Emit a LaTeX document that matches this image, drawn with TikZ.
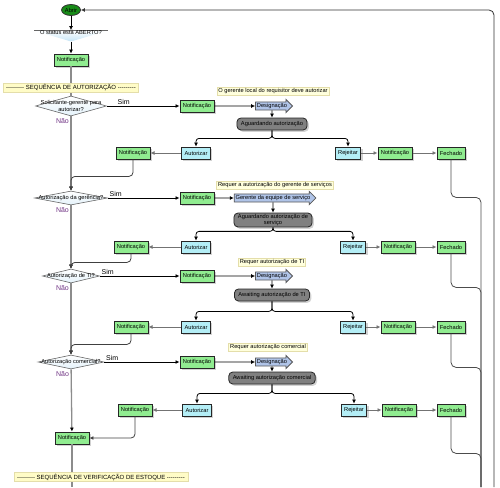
\documentclass[tikz,border=0pt]{standalone}
\usepackage{fontspec}
\setmainfont{Liberation Sans}
\usepackage{tikz}
\usetikzlibrary{shapes.geometric}
\usetikzlibrary{shapes.arrows}
\usetikzlibrary{shadows}
\usetikzlibrary{arrows.meta}
\definecolor{boxgreen}{RGB}{144,236,144}
\definecolor{boxcyan}{RGB}{180,238,246}
\definecolor{pillgray}{RGB}{128,128,128}
\definecolor{assignblue}{RGB}{176,196,232}
\definecolor{startgreen}{RGB}{24,140,24}
\definecolor{notefill}{RGB}{255,255,221}
\definecolor{noteline}{RGB}{228,222,170}
\definecolor{nolabel}{RGB}{112,52,132}
\definecolor{trunkgray}{RGB}{140,140,140}
\definecolor{decblue}{RGB}{196,228,246}
\tikzset{
every picture/.style={line width=0.8pt, >={Latex[length=4pt,width=4pt]}},
%%%%%%%%%%  Node styles
openstate/.style={ellipse, draw=black!80, fill=startgreen, minimum width=19pt,
                  minimum height=11pt, inner sep=0pt},
notif/.style={rectangle, draw=black!85, fill=boxgreen, minimum height=12pt,
              inner xsep=3pt, inner ysep=0pt,
              drop shadow={shadow xshift=1.8pt, shadow yshift=-1.8pt, fill=black!35}},
answer/.style={notif, fill=boxcyan},
waitbox/.style={rectangle, rounded corners=4pt, draw=black!85, fill=pillgray,
                minimum height=12pt, inner xsep=4pt, inner ysep=1pt, align=center,
                drop shadow={shadow xshift=1.8pt, shadow yshift=-1.8pt, fill=black!35}},
assign/.style={single arrow, draw=black!65, fill=assignblue, inner sep=1pt,
               single arrow head extend=2.5pt, single arrow head indent=0pt},
note/.style={rectangle, draw=noteline, fill=notefill, inner sep=1.3pt},
banner/.style={note, fill=yellow!22, inner xsep=3pt, font=\fontsize{6}{7}\selectfont},
decision/.style={diamond, draw=black!60, line width=0.6pt, top color=white,
                 bottom color=decblue!45, inner sep=0pt},
mergetri/.style={rectangle, minimum width=74pt, minimum height=11pt, inner sep=0pt,
                 text height=3pt, text depth=5pt,
                 path picture={
                   \shade[top color=white, bottom color=decblue]
                     (path picture bounding box.north west) --
                     (path picture bounding box.north east) --
                     (path picture bounding box.south) -- cycle;
                   \draw[black!60, line width=0.6pt]
                     (path picture bounding box.north west) --
                     (path picture bounding box.north east);}},
%%%% different line styles:
trunk/.style={draw=trunkgray, line width=1.3pt, -{Latex[length=4pt,width=4pt,black]}},
trunkline/.style={draw=trunkgray, line width=1.3pt},
link/.style={draw=black!55, ->},
flow/.style={draw=black, ->},
joinline/.style={draw=black!75, ->, rounded corners=4pt},
closeline/.style={draw=black!70, rounded corners=5pt},
%%%%%%% Labels
simlabel/.style={font=\fontsize{7}{8}\selectfont, inner sep=1.5pt},
naolabel/.style={simlabel, text=nolabel}
}
\newcommand{\dashfill}{-{}-{}-{}-{}-{}-{}-{}-{}-{}}

\begin{document}
\begin{tikzpicture}[x=1pt, y=-1pt, font=\fontsize{5.7}{6.6}\selectfont]
\useasboundingbox (0,0) rectangle (500,487);
\node[openstate] (abrir) at (71,10) {Abrir};
\node[mergetri] (open) at (71,36) {O status está ABERTO?};
\node[notif] (n0) at (71,60) {Notificação};
\draw[flow] (abrir) -- (open);
\draw[flow] (open) -- (n0);
%%%% row 1
\node[decision, minimum width=71pt, minimum height=20pt,
      label={[align=center]center:Solicitante-gerente para\\autorizar?}] (d1) at (71,106) {};
\node[notif] (n1) at (197,106) {Notificação};
\node[assign] (a1) at (272,106) {Designação};
\node[note] (nt1) at (273,91) {O gerente local do requisitor deve autorizar};
\node[waitbox] (w1) at (272,124) {Aguardando autorização};
\node[answer] (au1) at (196,153) {Autorizar};
\node[answer] (rj1) at (348,153) {Rejeitar};
\node[notif] (nl1) at (133,153) {Notificação};
\node[notif] (nr1) at (395,153) {Notificação};
\node[notif] (f1) at (451,153) {Fechado};
%%%% row 2
\node[decision, minimum width=73pt, minimum height=14pt,
      label=center:{Autorização da gerência?}] (d2) at (71,198) {};
\node[notif] (n2) at (197,198) {Notificação};
\node[assign] (a2) at (273,198) {Gerente da equipe de serviço};
\node[note] (nt2) at (275,185) {Requer a autorização do gerente de serviços};
\node[waitbox] (w2) at (273,220) {Aguardando autorização de\\serviço};
\node[answer] (au2) at (196,247) {Autorizar};
\node[answer] (rj2) at (353,247) {Rejeitar};
\node[notif] (nl2) at (131,247) {Notificação};
\node[notif] (nr2) at (398,247) {Notificação};
\node[notif] (f2) at (451,247) {Fechado};
%%%% row 3
\node[decision, minimum width=57pt, minimum height=14pt,
      label=center:{Autorização de TI?}] (d3) at (71,276) {};
\node[notif] (n3) at (197,276) {Notificação};
\node[assign] (a3) at (272,276) {Designação};
\node[note] (nt3) at (272,262) {Requer autorização de TI};
\node[waitbox] (w3) at (272,295) {Awaiting autorização de TI};
\node[answer] (au3) at (196,327) {Autorizar};
\node[answer] (rj3) at (353,327) {Rejeitar};
\node[notif] (nl3) at (131,327) {Notificação};
\node[notif] (nr3) at (398,327) {Notificação};
\node[notif] (f3) at (451,327) {Fechado};
%%%% row 4
\node[decision, minimum width=66pt, minimum height=14pt,
      label=center:{Autorização comercial?}] (d4) at (71,362) {};
\node[notif] (n4) at (197,362) {Notificação};
\node[assign] (a4) at (272,362) {Designação};
\node[note] (nt4) at (268,347) {Requer autorização comercial};
\node[waitbox] (w4) at (272,378) {Awaiting autorização comercial};
\node[answer] (au4) at (197,410) {Autorizar};
\node[answer] (rj4) at (354,410) {Rejeitar};
\node[notif] (nl4) at (135,410) {Notificação};
\node[notif] (nr4) at (399,410) {Notificação};
\node[notif] (f4) at (451,410) {Fechado};
\node[notif] (nfin) at (72,438) {Notificação};
\coordinate (seqout) at (72,487);
\coordinate (loopin) at (494,487);
\coordinate (mergeout) at (481,487);
%%%% main line
\draw[trunkline] (n0) -- (d1);
\draw[trunk] (d1) -- (d2) node[naolabel, pos=0, below left] {Não};
\draw[trunk] (d2) -- (d3) node[naolabel, pos=0, below left] {Não};
\draw[trunk] (d3) -- (d4) node[naolabel, pos=0, below left] {Não};
\draw[trunk] (d4) -- (nfin) node[naolabel, pos=0, below left] {Não};
\draw[trunkline] (nfin) -- (seqout);
%%%% Sim branches
\draw[flow] (d1) -- (n1) node[simlabel, pos=0, above right, xshift=9pt] {Sim};
\draw[flow] (d2) -- (n2) node[simlabel, pos=0, above right] {Sim};
\draw[flow] (d3) -- (n3) node[simlabel, pos=0, above right] {Sim};
\draw[flow] (d4) -- (n4) node[simlabel, pos=0, above right] {Sim};
\draw[flow] (n1) -- (a1);
\draw[flow] (n2) -- (a2);
\draw[flow] (n3) -- (a3);
\draw[flow] (n4) -- (a4);
\draw[flow] (a1) -- (w1);
\draw[flow] (a2) -- (w2);
\draw[flow] (a3) -- (w3);
\draw[flow] (a4) -- (w4);
%%%% split to Autorizar / Rejeitar
\draw[flow, rounded corners=3pt] (w1.south) -- ++(0,8) -| (au1);
\draw[flow, rounded corners=3pt] (w1.south) -- ++(0,8) -| (rj1);
\draw[flow, rounded corners=3pt] (w2.south) -- ++(0,4) -| (au2);
\draw[flow, rounded corners=3pt] (w2.south) -- ++(0,4) -| (rj2);
\draw[flow, rounded corners=3pt] (w3.south) -- ++(0,10) -| (au3);
\draw[flow, rounded corners=3pt] (w3.south) -- ++(0,10) -| (rj3);
\draw[flow, rounded corners=3pt] (w4.south) -- ++(0,9) -| (au4);
\draw[flow, rounded corners=3pt] (w4.south) -- ++(0,9) -| (rj4);
\draw[link] (au1) -- (nl1);
\draw[link] (au2) -- (nl2);
\draw[link] (au3) -- (nl3);
\draw[link] (au4) -- (nl4);
\draw[link] (rj1) -- (nr1);
\draw[link] (nr1) -- (f1);
\draw[link] (rj2) -- (nr2);
\draw[link] (nr2) -- (f2);
\draw[link] (rj3) -- (nr3);
\draw[link] (nr3) -- (f3);
\draw[link] (rj4) -- (nr4);
\draw[link] (nr4) -- (f4);
%%%% back to the main line
\draw[joinline] (nl1.south) -- ++(0,17) -| (d2.north);
\draw[joinline] (nl2.south) -- ++(0,9) -| (d3.north);
\draw[joinline] (nl3.south) -- ++(0,11) -| (d4.north);
\draw[joinline] (nl4.south) |- (nfin.east);
%%%% closed branches and loop
\draw[closeline] (f1.south) -- ++(0,38) -| (mergeout);
\draw[closeline] (f2.south) -- ++(0,34) -| (mergeout);
\draw[closeline] (f3.south) -- ++(0,34) -| (mergeout);
\draw[closeline] (f4.south) -- ++(0,37) -| (mergeout);
\draw[flow, black!80, rounded corners=5pt] (loopin) |- (abrir);
%%%% sequence banners
\node[banner] (seq1) at (71,88) {\dashfill{} SEQUÊNCIA DE AUTORIZAÇÃO \dashfill};
\node[banner] (seq2) at (101,477) {\dashfill{} SEQUÊNCIA DE VERIFICAÇÃO DE ESTOQUE \dashfill};
\end{tikzpicture}
\end{document}
